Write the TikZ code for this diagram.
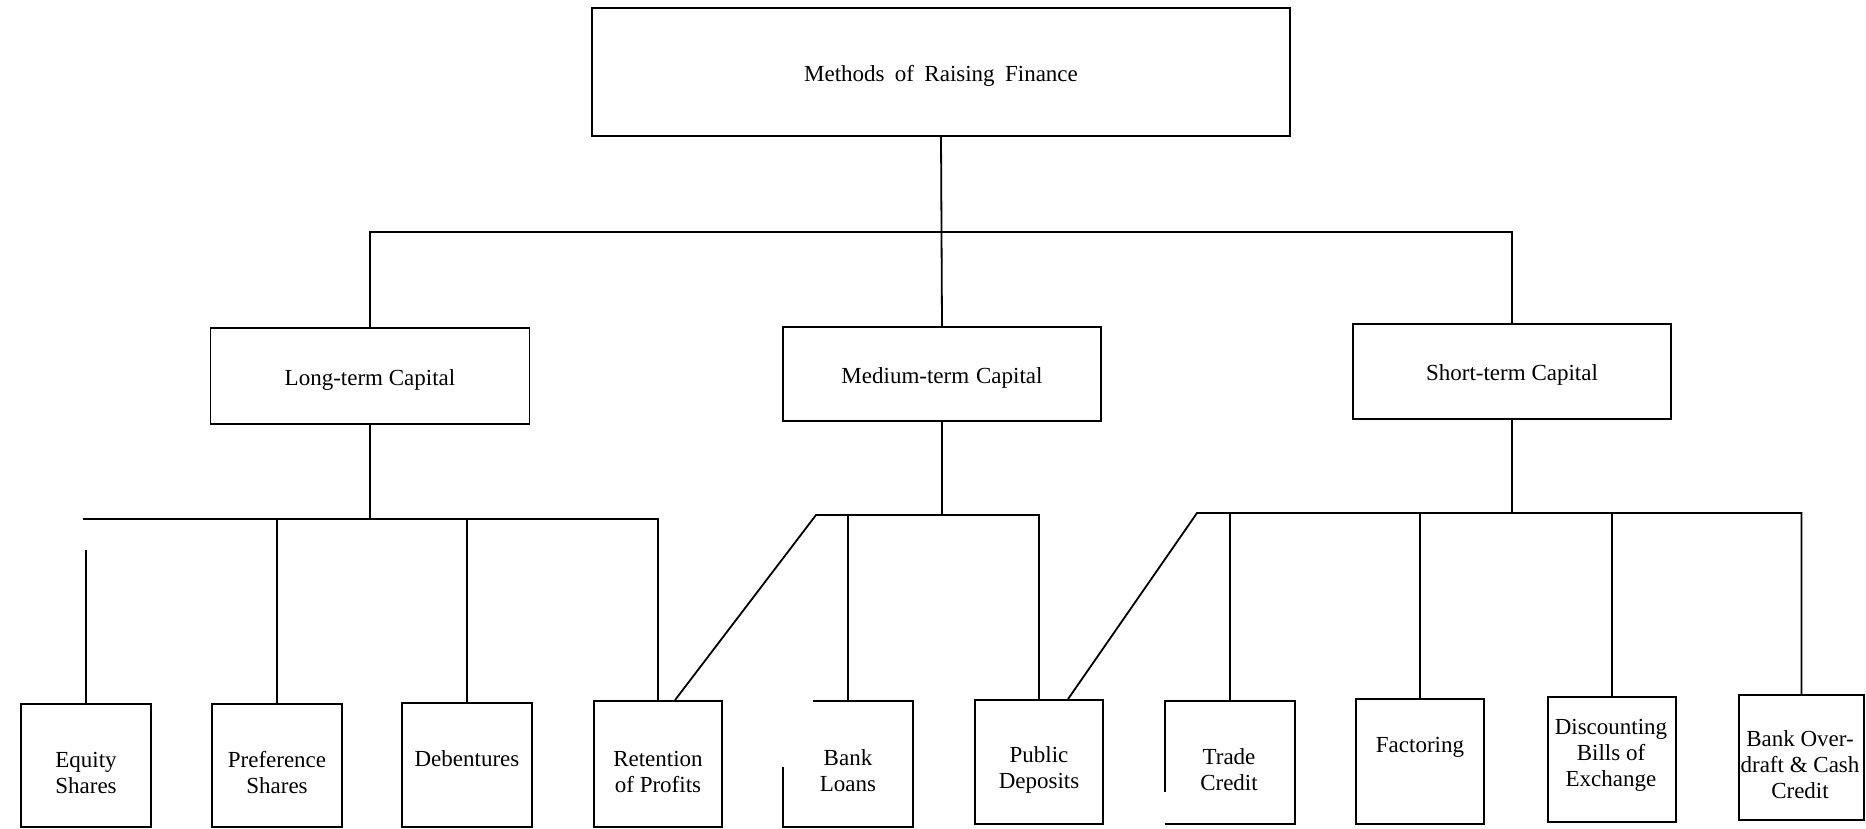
\documentclass[tikz,border=0pt]{standalone}
\usepackage{fontspec}
\setmainfont{Liberation Serif}
\usetikzlibrary{calc}
\begin{document}
\begin{tikzpicture}[x=1pt,y=-1pt,
  cell/.style={draw, line width=1.8pt, inner sep=0pt},
  hidden/.style={inner sep=0pt},
  wire/.style={line width=1.8pt},
  lbl/.style={font=\fontsize{23}{26}\selectfont, align=center, inner sep=0pt},
  head/.style={cell, lbl, text height=18.5pt, text depth=0pt}]
\useasboundingbox (0,0) rectangle (1866,829);

% root and the three kinds of capital
\node[head, minimum width=698pt, minimum height=128pt] (top) at (941,72)
  {Methods\hspace{0.45em}of\hspace{0.45em}Raising\hspace{0.45em}Finance};
\node[head, minimum width=319pt, minimum height=96pt] (lt) at (370,376) {Long-term Capital};
\node[head, minimum width=318pt, minimum height=94pt] (mt) at (942,374) {Medium-term\hspace{0.3em}Capital};
\node[head, minimum width=318pt, minimum height=95pt] (st) at (1512,371.5) {Short-term Capital};

% sources (boxes)
\node[cell, minimum width=130pt, minimum height=123pt] (eq)   at (86,765.5) {};
\node[cell, minimum width=130pt, minimum height=123pt] (pref) at (277,765.5) {};
\node[cell, minimum width=130pt, minimum height=124pt] (deb)  at (467,765) {};
\node[cell, minimum width=128pt, minimum height=126pt] (ret)  at (658,764) {};
\node[hidden, minimum width=130pt, minimum height=126pt] (bl) at (848,764) {};
\node[cell, minimum width=128pt, minimum height=124pt] (pub)  at (1039,762) {};
\node[hidden, minimum width=130pt, minimum height=123pt] (tc) at (1230,762.5) {};
\node[cell, minimum width=128pt, minimum height=125pt] (fac)  at (1420,761.5) {};
\node[cell, minimum width=128pt, minimum height=125pt] (disc) at (1612,759.5) {};
\node[cell, minimum width=125pt, minimum height=125pt] (bov)  at (1801.5,757.5) {};

% open-sided boxes
\draw[line width=1.8pt] ($(bl.north west)+(30,0)$) -- (bl.north east) -- (bl.south east)
  -- (bl.south west) -- ($(bl.south west)+(0,-60)$);
\draw[line width=1.8pt] ($(tc.north west)+(0,91)$) -- (tc.north west) -- (tc.north east)
  -- (tc.south east) -- (tc.south west);

% source labels
\node[lbl] (eqt)   at (86,773)   {Equity\\Shares};
\node[lbl] (preft) at (277,773)  {Preference\\Shares};
\node[lbl] (debt)  at (467,759)  {Debentures};
\node[lbl] (rett)  at (658,772)  {Retention\\of Profits};
\node[lbl] (blt)   at (848,771)  {Bank\\Loans};
\node[lbl] (pubt)  at (1039,770) {Public\\Deposits};
\node[lbl] (tct)   at (1229,770) {Trade\\Credit};
\node[lbl] (fact)  at (1420,747) {Factoring};
\node[lbl] (disct) at (1611,755) {Discounting\\Bills of\\Exchange};
\node[lbl] (bovt)  at (1800,765) {Bank Over-\\draft \& Cash\\Credit};

% bus points
\coordinate (b1)  at (941,232);
\coordinate (lbl) at (83,519);
\coordinate (mbl) at (816,515);
\coordinate (sbl) at (1197,513);
\coordinate (eqs) at (86,550);

% first level
\draw[wire] (top.south) -- (mt.north);
\draw[wire] (lt.north) |- (b1) -| (st.north);

% long-term capital
\draw[wire] (lt.south) -- (lt.south |- lbl);
\draw[wire] (lbl) -| (ret.north);
\draw[wire] (pref.north) -- (pref.north |- lbl);
\draw[wire] (deb.north) -- (deb.north |- lbl);
\draw[wire] (eqs) -- (eq.north);

% medium-term capital
\draw[wire] (mt.south) -- (mt.south |- mbl);
\draw[wire] ($(ret.north)+(17,0)$) -- (mbl) -| (pub.north);
\draw[wire] (bl.north) -- (bl.north |- mbl);

% short-term capital
\draw[wire] (st.south) -- (st.south |- sbl);
\draw[wire] ($(pub.north)+(29,0)$) -- (sbl) -| (bov.north);
\draw[wire] (tc.north) -- (tc.north |- sbl);
\draw[wire] (fac.north) -- (fac.north |- sbl);
\draw[wire] (disc.north) -- (disc.north |- sbl);
\end{tikzpicture}
\end{document}
